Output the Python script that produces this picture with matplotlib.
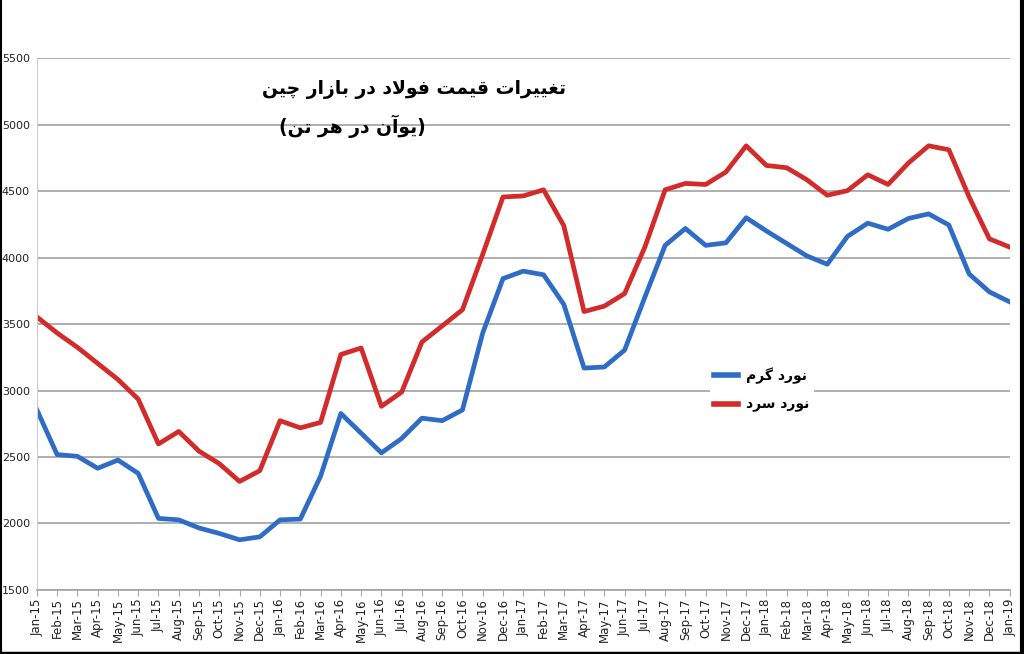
import matplotlib.pyplot as plt
from matplotlib.lines import Line2D

months = ["Jan-15", "Feb-15", "Mar-15", "Apr-15", "May-15", "Jun-15", "Jul-15", "Aug-15",
          "Sep-15", "Oct-15", "Nov-15", "Dec-15", "Jan-16", "Feb-16", "Mar-16", "Apr-16",
          "May-16", "Jun-16", "Jul-16", "Aug-16", "Sep-16", "Oct-16", "Nov-16", "Dec-16",
          "Jan-17", "Feb-17", "Mar-17", "Apr-17", "May-17", "Jun-17", "Jul-17", "Aug-17",
          "Sep-17", "Oct-17", "Nov-17", "Dec-17", "Jan-18", "Feb-18", "Mar-18", "Apr-18",
          "May-18", "Jun-18", "Jul-18", "Aug-18", "Sep-18", "Oct-18", "Nov-18", "Dec-18",
          "Jan-19"]

# hot rolled (blue)
hot_rolled = [2855, 2518, 2505, 2415, 2477, 2377, 2038, 2027, 1966, 1925, 1877, 1899,
              2027, 2033, 2356, 2827, 2679, 2531, 2639, 2792, 2773, 2854, 3433, 3842,
              3898, 3871, 3648, 3169, 3177, 3304, 3702, 4092, 4219, 4092, 4111, 4300,
              4200, 4106, 4012, 3950, 4160, 4259, 4213, 4294, 4329, 4245, 3877, 3742,
              3667]

# cold rolled (red)
cold_rolled = [3554, 3433, 3325, 3204, 3083, 2935, 2598, 2692, 2544, 2450, 2316, 2397,
               2773, 2719, 2760, 3271, 3320, 2881, 2988, 3365, 3486, 3608, 4025, 4456,
               4464, 4510, 4240, 3594, 3635, 3729, 4079, 4510, 4558, 4550, 4644, 4841,
               4693, 4676, 4585, 4469, 4504, 4623, 4550, 4711, 4841, 4811, 4456, 4141,
               4079]

y_ticks = [1500, 2000, 2500, 3000, 3500, 4000, 4500, 5000, 5500]

title_line1 = "تغییرات قیمت فولاد در بازار چین"
title_line2 = "(یوآن در هر تن)"
label_hot = "نورد گرم"
label_cold = "نورد سرد"

# matplotlib has no arabic shaping, so pick presentation forms by hand
# (isolated, final, initial, medial)
FORMS = {
    '\u0627': ('\uFE8D', '\uFE8E', None, None),
    '\u0622': ('\uFE81', '\uFE82', None, None),
    '\u0628': ('\uFE8F', '\uFE90', '\uFE91', '\uFE92'),
    '\u062A': ('\uFE95', '\uFE96', '\uFE97', '\uFE98'),
    '\u0686': ('\uFB7A', '\uFB7B', '\uFB7C', '\uFB7D'),
    '\u062F': ('\uFEA9', '\uFEAA', None, None),
    '\u0631': ('\uFEAD', '\uFEAE', None, None),
    '\u0632': ('\uFEAF', '\uFEB0', None, None),
    '\u0633': ('\uFEB1', '\uFEB2', '\uFEB3', '\uFEB4'),
    '\u063A': ('\uFECD', '\uFECE', '\uFECF', '\uFED0'),
    '\u0641': ('\uFED1', '\uFED2', '\uFED3', '\uFED4'),
    '\u0642': ('\uFED5', '\uFED6', '\uFED7', '\uFED8'),
    '\u06AF': ('\uFB92', '\uFB93', '\uFB94', '\uFB95'),
    '\u0644': ('\uFEDD', '\uFEDE', '\uFEDF', '\uFEE0'),
    '\u0645': ('\uFEE1', '\uFEE2', '\uFEE3', '\uFEE4'),
    '\u0646': ('\uFEE5', '\uFEE6', '\uFEE7', '\uFEE8'),
    '\u0647': ('\uFEE9', '\uFEEA', '\uFEEB', '\uFEEC'),
    '\u0648': ('\uFEED', '\uFEEE', None, None),
    '\u06CC': ('\uFBFC', '\uFBFD', '\uFBFE', '\uFBFF'),
}
LAM_ALEF = {'\u0627': ('\uFEFB', '\uFEFC'), '\u0622': ('\uFEF5', '\uFEF6')}


def joins_forward(c):
    return c in FORMS and FORMS[c][2] is not None


def shape_rtl(text):
    res = []
    i = 0
    n = len(text)
    while i < n:
        c = text[i]
        if c not in FORMS:
            res.append(c)
            i += 1
            continue
        prev = text[i - 1] if i > 0 else ''
        linked_prev = joins_forward(prev)
        if c == '\u0644' and i + 1 < n and text[i + 1] in LAM_ALEF:
            lig = LAM_ALEF[text[i + 1]]
            res.append(lig[1] if linked_prev else lig[0])
            i += 2
            continue
        nxt = text[i + 1] if i + 1 < n else ''
        linked_next = joins_forward(c) and nxt in FORMS
        isol, fin, ini, med = FORMS[c]
        if linked_prev and linked_next:
            res.append(med)
        elif linked_prev:
            res.append(fin)
        elif linked_next:
            res.append(ini)
        else:
            res.append(isol)
        i += 1
    vis = ''.join(reversed(res))
    return vis.translate(str.maketrans('()', ')('))


fig = plt.figure(figsize=(10.24, 6.54), dpi=100)
ax = fig.add_axes([0.036, 0.098, 0.95, 0.813])

x = list(range(len(months)))
ax.plot(x, hot_rolled, color='#2f6cc5', lw=3.4, label=shape_rtl(label_hot), solid_joinstyle='round')
ax.plot(x, cold_rolled, color='#d22b29', lw=3.4, label=shape_rtl(label_cold), solid_joinstyle='round')

ax.set_xlim(0, len(months) - 1)
ax.set_ylim(1500, 5500)
ax.set_yticks(y_ticks)
ax.set_yticklabels([str(v) for v in y_ticks], fontsize=8, color='#222222',
                   family=['Liberation Sans Narrow', 'DejaVu Sans'])
ax.set_xticks(x)
ax.set_xticklabels(months, rotation=90, fontsize=8.5, color='#222222')
ax.grid(axis='y', color='#a8a8a8', lw=1.3)
ax.set_axisbelow(True)
for side in ['top', 'right']:
    ax.spines[side].set_visible(False)
ax.spines['bottom'].set_color('#a8a8a8')
ax.spines['bottom'].set_linewidth(1.3)
ax.spines['left'].set_color('#cccccc')
ax.spines['left'].set_linewidth(0.8)
ax.tick_params(axis='y', length=0, pad=5)
ax.tick_params(axis='x', length=4, color='#a8a8a8', pad=2)

ax.text(0.544, 0.942, shape_rtl(title_line1), transform=ax.transAxes, ha='right', va='center',
        fontsize=13.5, fontweight='bold', family='DejaVu Sans')
ax.text(0.40, 0.872, shape_rtl(title_line2), transform=ax.transAxes, ha='right', va='center',
        fontsize=13.5, fontweight='bold', family='DejaVu Sans')

leg = ax.legend(loc='upper left', bbox_to_anchor=(0.685, 0.44), frameon=True,
                prop={'family': 'DejaVu Sans', 'weight': 'bold', 'size': 10},
                handlelength=1.7, handletextpad=0.6, borderpad=0.3, labelspacing=1.0)
leg.get_frame().set_facecolor('white')
leg.get_frame().set_edgecolor('none')
leg.get_frame().set_alpha(1)
for h in leg.legend_handles:
    h.set_linewidth(4)

# dark frame on left, right and bottom of the picture
for xs, ys, w in [([0.0005, 0.0005], [0, 1], 1.5), ([0.998, 0.998], [0, 1], 3), ([0, 1], [0.002, 0.002], 2.5)]:
    fig.add_artist(Line2D(xs, ys, transform=fig.transFigure, color='black', lw=w))

fig.savefig('out.png', dpi=100)
